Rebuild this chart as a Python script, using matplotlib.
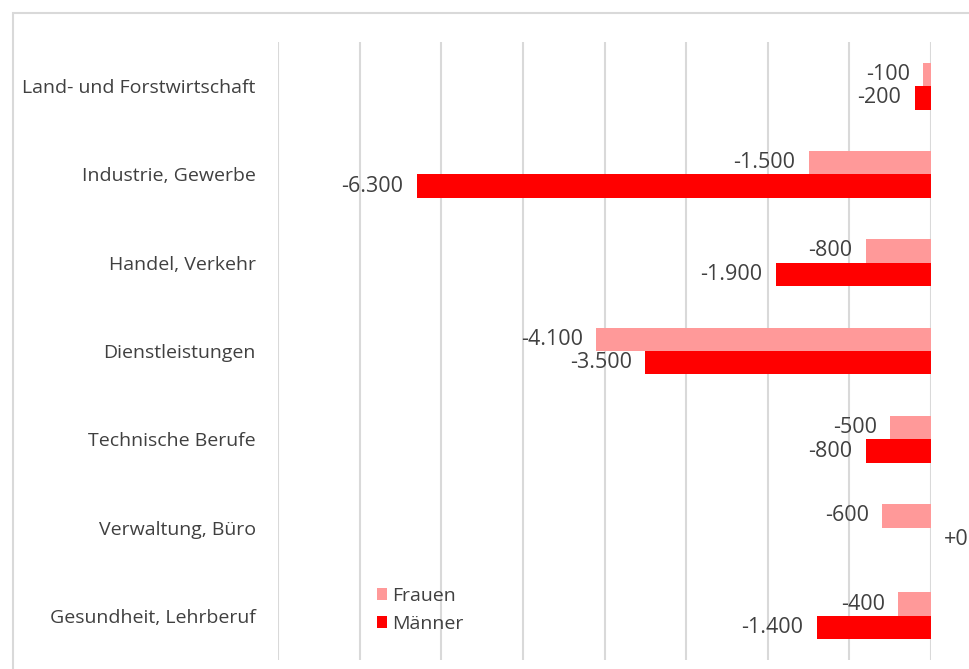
import matplotlib.pyplot as plt
from matplotlib.patches import Rectangle
import numpy as np

plt.rcParams['font.family'] = ['Open Sans', 'DejaVu Sans']

categories = ["Land- und Forstwirtschaft", "Industrie, Gewerbe", "Handel, Verkehr",
              "Dienstleistungen", "Technische Berufe", "Verwaltung, Büro",
              "Gesundheit, Lehrberuf"]
frauen = [-100, -1500, -800, -4100, -500, -600, -400]
maenner = [-200, -6300, -1900, -3500, -800, 0, -1400]

c_fr = "#ff9999"
c_ma = "#ff0000"
txt = "#404040"
fs = 14
fs_val = 15.5


def fmt(v):
    if v == 0:
        return "+0"
    s = "{:,}".format(abs(v)).replace(",", ".")
    return ("-" if v < 0 else "+") + s


fig = plt.figure(figsize=(9.69, 6.69), dpi=100)
fig.patches.append(Rectangle((13 / 969, -0.1), 1.2, 1 - 13 / 669 + 0.1,
                             transform=fig.transFigure, fill=False,
                             edgecolor="#d9d9d9", linewidth=1.5))
ax = fig.add_axes([278 / 969, 1 - 660 / 669, (931 - 278) / 969, (660 - 42) / 669])

y = np.arange(len(categories))
h = 0.266
ax.barh(y - h / 2, frauen, height=h, color=c_fr, label="Frauen", zorder=3)
ax.barh(y + h / 2, maenner, height=h, color=c_ma, label="Männer", zorder=3)

for i in range(len(categories)):
    for v, yy in ((frauen[i], y[i] - h / 2), (maenner[i], y[i] + h / 2)):
        if v < 0:
            ax.annotate(fmt(v), (v, yy), xytext=(-9.5, 0), textcoords="offset points",
                        ha="right", va="center", fontsize=fs_val, color=txt)
        else:
            ax.annotate(fmt(v), (v, yy), xytext=(9.5, 0), textcoords="offset points",
                        ha="left", va="center", fontsize=fs_val, color=txt)

ax.set_xlim(-8000, 0)
ax.set_ylim(len(categories) - 0.5, -0.5)
ax.set_xticks(np.arange(-8000, 1, 1000))
ax.set_xticklabels([])
ax.tick_params(axis="x", length=0)
ax.grid(axis="x", color="#d9d9d9", linewidth=1.5, zorder=0)
ax.set_yticks(y)
ax.set_yticklabels(categories, fontsize=fs, color=txt)
ax.tick_params(axis="y", length=0, pad=16)
for s in ax.spines.values():
    s.set_visible(False)

ax.legend(loc="lower left", bbox_to_anchor=(0.13, 0.022), frameon=False,
          fontsize=fs, handlelength=0.55, handleheight=0.55, handletextpad=0.25,
          labelspacing=0.5, labelcolor=txt, borderpad=0.2)

fig.savefig("out.png", dpi=100)
